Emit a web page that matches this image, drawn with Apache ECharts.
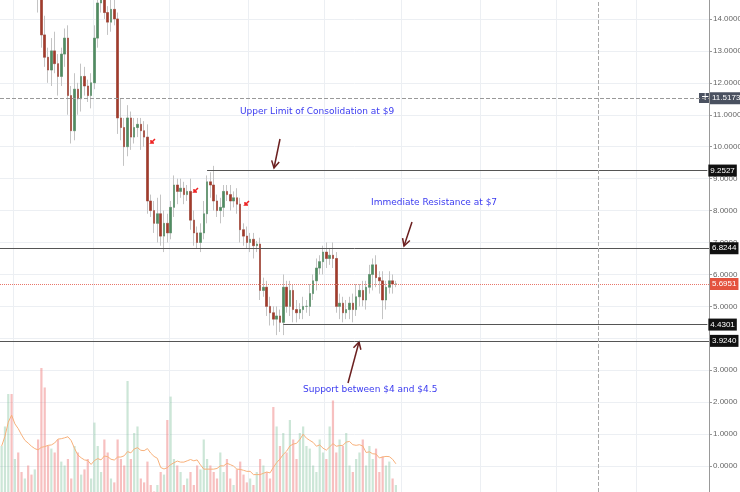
<!DOCTYPE html>
<html><head><meta charset="utf-8">
<script src="https://cdn.jsdelivr.net/npm/echarts@6/dist/echarts.min.js"></script>
<style>html,body{margin:0;padding:0;background:#fff;overflow:hidden;width:740px;height:492px}#c{position:absolute;left:0;top:-13px;width:740px;height:511px}</style>
</head><body><div id="c"></div>
<script>
const closes=[15.5,15.8,16.2,15.9,16.5,16.1,15.7,15.9,15.4,15.0,15.2,14.8,
13.5,12.8,12.4,13.0,12.6,12.2,12.9,13.4,11.6,10.5,11.8,11.5,12.2,11.9,11.6,12.0,
13.4,14.5,15.0,14.2,13.9,14.3,14.0,10.9,10.6,10.0,10.9,10.3,10.6,10.7,10.5,10.3,
8.3,8.0,7.6,7.9,7.2,7.6,7.3,8.1,8.8,8.6,8.7,8.5,8.6,7.7,7.3,7.0,7.3,
7.9,8.9,8.8,8.3,8.0,8.1,8.6,8.5,8.3,8.4,8.2,7.4,7.2,7.0,7.1,6.9,6.95,
5.5,5.6,5.0,4.8,4.6,4.7,4.5,5.6,5.0,5.5,4.9,4.8,4.9,5.0,5.0,
5.4,5.8,6.2,6.4,6.7,6.5,6.6,6.5,5.0,5.1,4.8,4.9,5.1,4.9,5.3,5.5,5.2,
5.6,6.0,6.3,5.9,5.8,5.2,5.6,5.8,5.7,5.70];
const wickUp=[.3,.2,.4,.2,.3,.2,.3,.2,.3,.2,.5,.3,.4,.6,.3,.4,.6,.3,.2,.3,.4,.3,.5,.2,.4,.3,.2,.3,.4,.3,
.2,.3,.2,.4,.3,.2,.6,.3,.4,.2,.3,.2,.2,.3,.4,.2,.3,.5,.6,.4,.3,.2,.3,.2,.3,.2,.2,.4,.3,.2,
.3,.4,.2,.3,.6,.2,.3,.2,.2,.3,.2,.3,.2,.2,.3,.2,.2,.1,.2,.3,.2,.3,.2,.3,.2,.4,.2,.3,.2,.3,
.2,.3,.2,.3,.2,.3,.2,.2,.3,.2,.4,.2,.3,.2,.3,.2,.3,.4,.2,.3,.2,.3,.2,.3,.2,.3,.2,.3,.2,.1];
const wickDn=[.2,.3,.2,.4,.3,.2,.3,.5,.2,.3,.3,.6,.4,.3,.4,.5,.3,.6,.3,.4,.6,.4,.3,.5,.4,.3,.2,.4,.2,.3,
.3,.2,.4,.3,.2,.5,.4,.6,.3,.4,.2,.3,.6,.3,.4,.2,.3,.6,.3,.5,.3,.2,.3,.4,.2,.3,.2,.3,.4,.2,
.3,.2,.3,.4,.3,.2,.4,.3,.2,.3,.2,.3,.4,.3,.2,.3,.4,.2,.3,.2,.3,.4,.2,.5,.3,.4,.2,.3,.4,.3,
.2,.3,.2,.3,.2,.3,.2,.4,.3,.2,.3,.2,.4,.3,.2,.3,.4,.2,.3,.2,.3,.2,.5,.3,.4,.6,.3,.2,.3,.1];
const volumes=[40,55,80,80,30,35,20,15,25,18,22,45,100,85,40,38,35,45,28,25,
30,15,40,35,18,22,30,15,58,40,20,45,35,15,12,45,30,25,90,30,
50,55,15,12,28,10,5,10,20,18,60,78,30,25,20,10,15,20,10,25,
22,45,30,25,20,15,35,20,30,15,10,22,28,18,12,15,10,20,30,25,
20,15,70,55,40,50,35,60,45,30,50,55,40,38,25,20,45,35,30,55,
75,35,45,40,50,25,20,30,35,45,25,40,30,38,20,32,25,28,15,10];
const yTicks=[0,1,2,3,4,5,6,7,8,9,10,11,12,13,14];
const levels={upper:9.2527,resist:6.8244,supHi:4.4301,supLo:3.9240,last:5.6951,cross:11.5173};
const nSlots=214;

const cats=[];for(let i=0;i<nSlots;i++)cats.push(i);
const full=[],body=[],volData=[],ma=[];
for(let i=0;i<closes.length;i++){
  const o=i===0?closes[0]-0.2:closes[i-1],c=closes[i];
  const hi=Math.max(o,c)+wickUp[i],lo=Math.min(o,c)-wickDn[i];
  full.push([o,c,lo,hi]);body.push([o,c,Math.min(o,c),Math.max(o,c)]);
  volData.push({value:volumes[i],itemStyle:{color:c>=o?'rgba(120,190,150,0.38)':'rgba(240,130,130,0.5)'}});
  let s=0,k=0;for(let j=Math.max(0,i-9);j<=i;j++){s+=volumes[j];k++;}ma.push(s/k);
}
const ch=echarts.init(document.getElementById('c'));
const F='Liberation Sans';
const box=(bg,v)=>({show:true,position:'end',backgroundColor:bg,color:'#fff',fontSize:8,fontFamily:F,padding:[2,2],distance:1,formatter:v.toFixed(4)});
const lineStyle={color:'#555',width:1,type:'solid'};
const gridLines=[4,28,51,75,98,121,145,168,192];
ch.setOption({
  animation:false,
  grid:{left:0,right:31,top:0,bottom:0,outerBoundsMode:'none',containLabel:false},
  xAxis:{type:'category',data:cats,boundaryGap:true,axisLine:{show:false},axisTick:{show:false},axisLabel:{show:false},
    splitLine:{show:true,interval:(i)=>gridLines.indexOf(i)>=0,lineStyle:{color:'#eceff3'}}},
  yAxis:[{type:'value',position:'right',min:-1,max:15,interval:1,
    axisLine:{show:true,lineStyle:{color:'#999'}},axisTick:{show:true,length:3,lineStyle:{color:'#999'}},
    axisLabel:{fontSize:8,color:'#666',fontFamily:F,margin:4,formatter:v=>yTicks.indexOf(v)>=0?v.toFixed(4):''},
    splitLine:{lineStyle:{color:'#eceff3'}}},
   {type:'value',min:0,max:393,show:false,splitLine:{show:false}}],
  series:[
    {type:'bar',yAxisIndex:1,data:volData,barWidth:2.2,z:1},
    {type:'line',yAxisIndex:1,data:ma,symbol:'none',lineStyle:{color:'#f7b07a',width:1},z:2},
    {type:'candlestick',data:full,barWidth:2,clip:true,z:3,
      itemStyle:{color:'#bbb',color0:'#bbb',borderColor:'#c4c4c4',borderColor0:'#c4c4c4',borderWidth:1},
      markLine:{symbol:'none',silent:true,z:5,data:[
        {yAxis:levels.cross,lineStyle:{color:'#999',type:'dashed',width:1},label:box('#4a5160',levels.cross)},
        {yAxis:levels.resist,lineStyle:lineStyle,label:box('#111',levels.resist)},
        {yAxis:levels.supLo,lineStyle:lineStyle,label:box('#111',levels.supLo)},
        {yAxis:levels.last,lineStyle:{color:'#e8766a',type:'dotted',width:1},label:box('#e4533f',levels.last)},
        [{coord:[62,levels.upper],lineStyle:lineStyle,label:box('#111',levels.upper)},{coord:[nSlots-1,levels.upper]}],
        [{coord:[85,levels.supHi],lineStyle:lineStyle,label:box('#111',levels.supHi)},{coord:[nSlots-1,levels.supHi]}],
        {xAxis:180,lineStyle:{color:'#aaa',type:'dashed',width:1},label:{show:false}}
      ]}},
    {type:'candlestick',data:body,barWidth:2,clip:true,z:4,
      itemStyle:{color:'#4f8c61',color0:'#a23b2b',borderColor:'#4f8c61',borderColor0:'#a23b2b',borderWidth:0.5}}
  ]
});
const D=13;
const txt=(x,y,t)=>({type:'text',x:x,y:y+D,style:{text:t,fill:'#3b3bf0',font:'9px DejaVu Sans'}});
const arr=(x1,y1,x2,y2)=>{y1+=D;y2+=D;const a=Math.atan2(y2-y1,x2-x1),L=8;return [
  {type:'line',shape:{x1,y1,x2,y2},style:{stroke:'#6b1f1f',lineWidth:1.5}},
  {type:'polyline',shape:{points:[[x2-L*Math.cos(a-0.5),y2-L*Math.sin(a-0.5)],[x2,y2],[x2-L*Math.cos(a+0.5),y2-L*Math.sin(a+0.5)]]},style:{stroke:'#6b1f1f',fill:null,lineWidth:1.5}}];};
const red=(x,y)=>{y+=D;return {type:'polyline',shape:{points:[[x+4,y-4],[x,y],[x+3,y],[x,y],[x,y-3]]},style:{stroke:'#ee2222',lineWidth:1.5,fill:null}};};
ch.setOption({graphic:[
  txt(240,107,'Upper Limit of Consolidation at $9'),
  txt(371,198,'Immediate Resistance at $7'),
  txt(303,385,'Support between $4 and $4.5'),
  ...arr(280,139,274,168),
  ...arr(412,222,404,246),
  ...arr(348,383,359,342),
  red(151,143),red(194,192),red(245,205),
  {type:'rect',shape:{x:699,y:93+D,width:11,height:10},style:{fill:'#4a5160'}},
  {type:'text',x:701,y:92+D,style:{text:'+',fill:'#fff',font:'10px DejaVu Sans'}}
]});
</script></body></html>
